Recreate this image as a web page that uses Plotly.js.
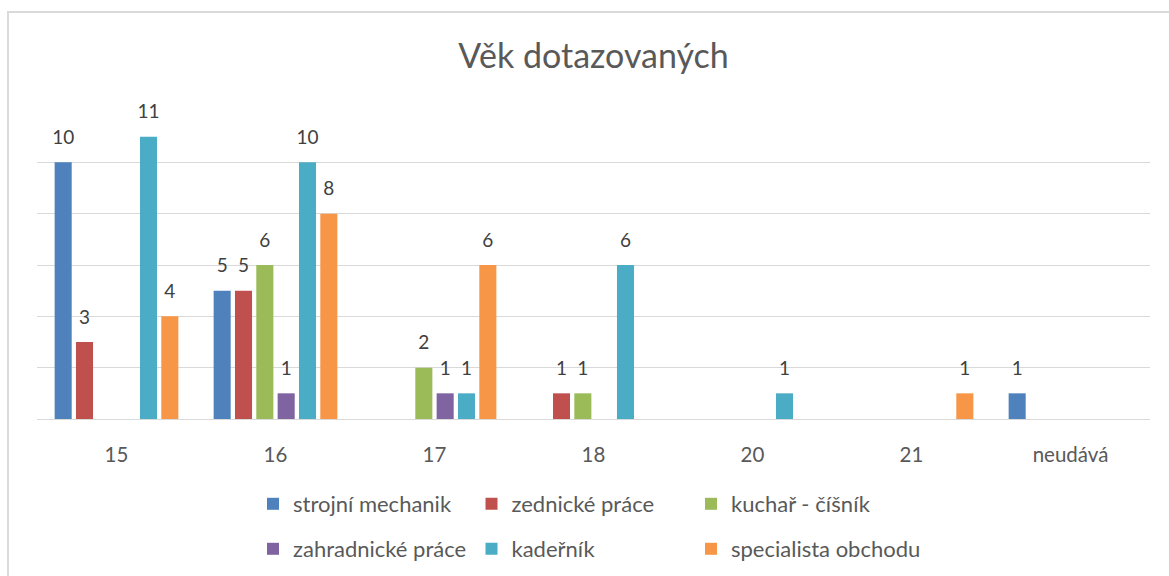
<!DOCTYPE html>
<html>
<head>
<meta charset="utf-8">
<script src="https://cdn.plot.ly/plotly-3.0.1.min.js"></script>
<style>
  html, body { margin: 0; padding: 0; background: #fff; overflow: hidden; }
  #wrap { position: relative; width: 1169px; height: 576px; overflow: hidden; }
  #chart { position: absolute; left: 0; top: 0; width: 1169px; height: 576px; }
  #frame { position: absolute; left: 7px; top: 11px; width: 1162px; height: 565px;
           border-top: 2px solid #dadada; border-left: 2px solid #dadada;
           pointer-events: none; box-sizing: border-box; }
</style>
</head>
<body>
<div id="wrap">
  <div id="chart"></div>
  <div id="frame"></div>
</div>
<script>
// ---- data ----
const categories = ['15', '16', '17', '18', '20', '21', 'neudává'];
const seriesNames = ['strojní mechanik', 'zednické práce', 'kuchař - číšník',
                     'zahradnické práce', 'kadeřník', 'specialista obchodu'];
const strojniMechanik    = [10, 5, 0, 0, 0, 0, 1];
const zednickePrace      = [3, 5, 0, 1, 0, 0, 0];
const kucharCisnik       = [0, 6, 2, 1, 0, 0, 0];
const zahradnickePrace   = [0, 1, 1, 0, 0, 0, 0];
const kadernik           = [11, 10, 1, 6, 1, 0, 0];
const specialistaObchodu = [4, 8, 6, 0, 0, 1, 0];
const seriesValues = [strojniMechanik, zednickePrace, kucharCisnik,
                      zahradnickePrace, kadernik, specialistaObchodu];

// ---- styles ----
const colors = ['#4F81BD', '#C0504D', '#9BBB59', '#8064A2', '#4BACC6', '#F79646'];
const FONT = 'Lato, "Noto Sans", sans-serif';
const legendIds = ['legend', 'legend2', 'legend3', 'legend4', 'legend5', 'legend6'];

const traces = [];
seriesValues.forEach((vals, i) => {
  traces.push({
    type: 'bar',
    name: seriesNames[i],
    x: categories,
    y: vals,
    marker: { color: colors[i] },
    legend: legendIds[i],
    hoverinfo: 'x+y+name'
  });
});
seriesValues.forEach((vals, i) => {
  traces.push({
    type: 'scatter',
    mode: 'markers+text',
    x: categories,
    y: vals.map(v => (v ? v : null)),
    text: vals.map(v => (v ? String(v) : '')),
    textposition: 'top center',
    textfont: { family: FONT, size: 19, color: '#404040' },
    marker: { size: 20, color: 'rgba(0,0,0,0)' },
    cliponaxis: false,
    showlegend: false,
    hoverinfo: 'skip'
  });
});

// plot area: x 37..1150, y 111..419
const PL = 37, PW = 1113, PB = 419, PH = 308;
const colX = [253, 471.5, 691];   // legend box left edges (px)
const rowY = [504, 549];          // legend row centres (px)

const layout = {
  width: 1169,
  height: 576,
  margin: { l: 37, r: 19, t: 111, b: 157, autoexpand: false },
  paper_bgcolor: '#ffffff',
  plot_bgcolor: '#ffffff',
  font: { family: FONT, color: '#595959' },
  title: {
    text: 'Věk dotazovaných',
    font: { family: FONT, size: 34, color: '#595959' },
    xref: 'paper', x: 0.5, xanchor: 'center',
    yref: 'container', y: 1 - 56 / 576, yanchor: 'middle'
  },
  barmode: 'group',
  bargap: 0.195,
  bargroupgap: 0.2,
  scattermode: 'group',
  scattergap: 0.195,
  xaxis: {
    type: 'category',
    categoryorder: 'array',
    categoryarray: categories,
    showgrid: false,
    showline: true,
    linecolor: '#d9d9d9',
    linewidth: 1,
    ticks: '',
    ticklabelstandoff: 17,
    tickfont: { family: FONT, size: 20.5, color: '#595959' },
    fixedrange: true
  },
  yaxis: {
    range: [0, 12],
    dtick: 2,
    showticklabels: false,
    showgrid: true,
    gridcolor: '#d9d9d9',
    gridwidth: 1,
    zeroline: false,
    ticks: '',
    fixedrange: true
  },
  showlegend: true
};

legendIds.forEach((id, i) => {
  layout[id] = {
    orientation: 'h',
    xanchor: 'left',
    yanchor: 'middle',
    x: (colX[i % 3] - PL) / PW,
    y: (PB - rowY[Math.floor(i / 3)]) / PH,
    font: { family: FONT, size: 22, color: '#595959' },
    bgcolor: 'rgba(0,0,0,0)'
  };
});

Plotly.newPlot('chart', traces, layout, { displayModeBar: false, staticPlot: true });
</script>
</body>
</html>
